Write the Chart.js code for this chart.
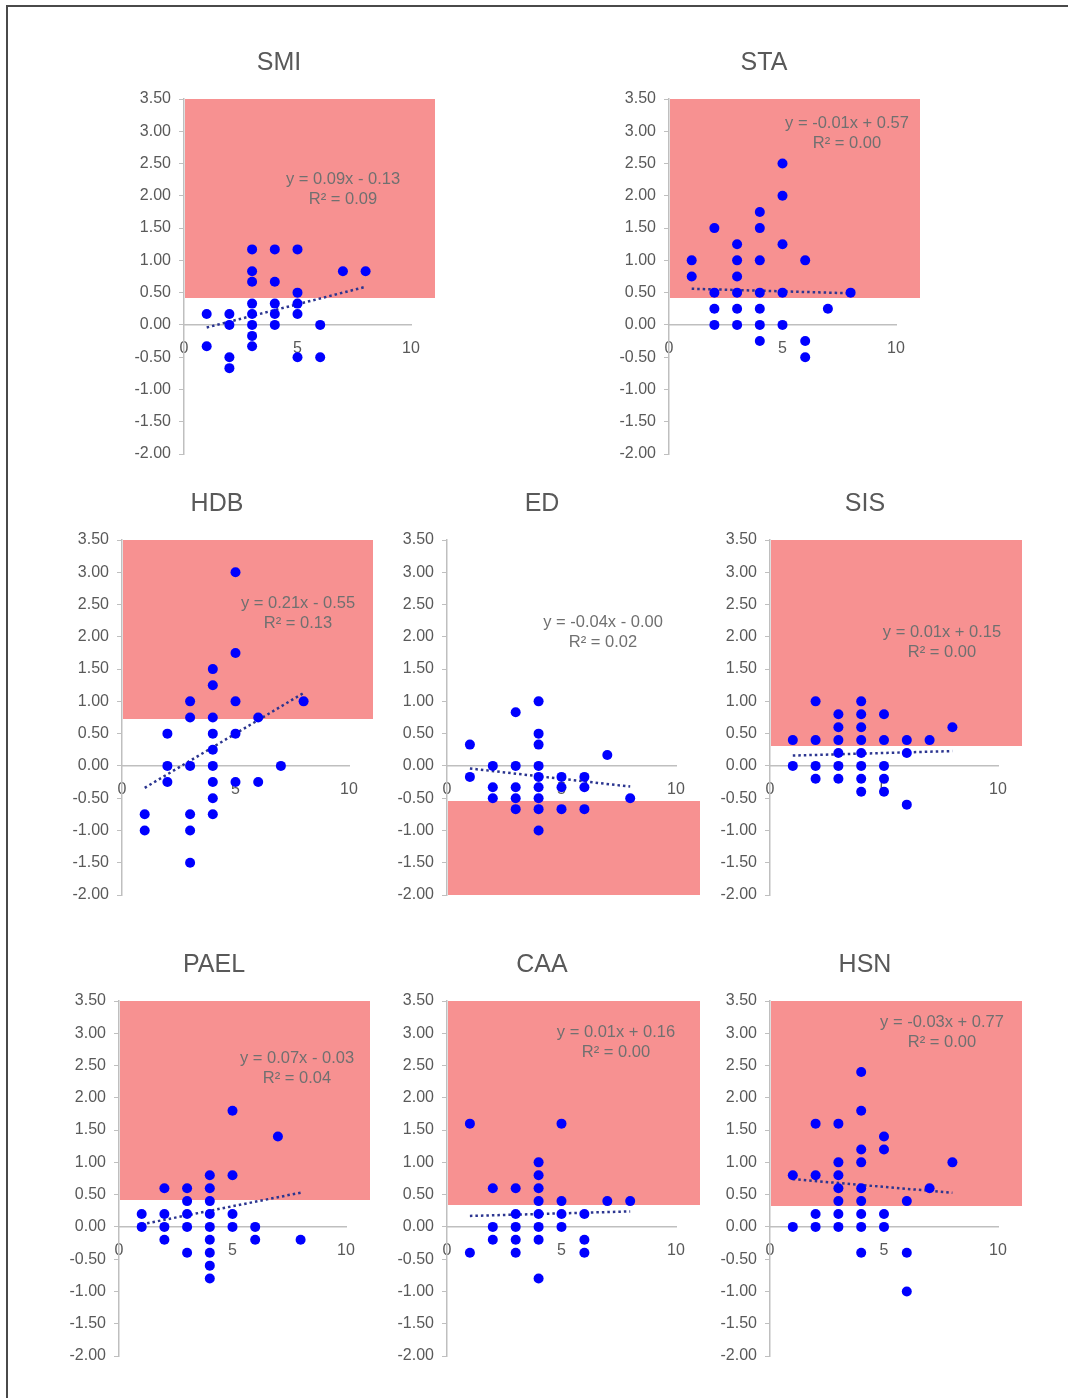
<!DOCTYPE html>
<html>
<head>
<meta charset="utf-8">
<script src="https://cdn.jsdelivr.net/npm/chart.js@4.4.1/dist/chart.umd.min.js"></script>
<style>
  body { margin: 0; background: #fff; width: 1068px; height: 1398px; position: relative; overflow: hidden; }
  .frame { position: absolute; left: 6px; top: 5px; width: 1070px; height: 1400px; border-left: 2px solid #4a4a4a; border-top: 2px solid #4a4a4a; }
  .box { position: absolute; }
</style>
</head>
<body>
<div class="frame"></div>
<div id="charts"></div>
<script>
// panel names, in reading order
const names = ['SMI', 'STA', 'HDB', 'ED', 'SIS', 'PAEL', 'CAA', 'HSN']

// x = score, y = change, one pair of arrays per panel
const smiX = [1,1, 2,2,2,2, 3,3,3,3,3,3,3,3, 4,4,4,4,4, 5,5,5,5,5, 6,6, 7, 8]
const smiY = [0.17,-0.33, 0.17,0,-0.5,-0.67, 1.17,0.83,0.67,0.33,0.17,0,-0.17,-0.33, 1.17,0.67,0.33,0.17,0, 1.17,0.5,0.33,0.17,-0.5, 0,-0.5, 0.83, 0.83]

const staX = [1,1, 2,2,2,2, 3,3,3,3,3,3, 4,4,4,4,4,4,4, 5,5,5,5,5, 6,6,6, 7, 8]
const staY = [1,0.75, 1.5,0.5,0.25,0, 1.25,1,0.75,0.5,0.25,0, 1.75,1.5,1,0.5,0.25,0,-0.25, 2.5,2,1.25,0.5,0, 1,-0.25,-0.5, 0.25, 0.5]

const hdbX = [1,1, 2,2,2, 3,3,3,3,3,3, 4,4,4,4,4,4,4,4,4, 5,5,5,5,5, 6,6, 7, 8]
const hdbY = [-0.75,-1, 0.5,0,-0.25, 1,0.75,0,-0.75,-1,-1.5, 1.5,1.25,0.75,0.5,0.25,0,-0.25,-0.5,-0.75, 3,1.75,1,0.5,-0.25, 0.75,-0.25, 0, 1]

const edX = [1,1, 2,2,2, 3,3,3,3,3, 4,4,4,4,4,4,4,4,4, 5,5,5, 6,6,6, 7, 8]
const edY = [0.33,-0.17, 0,-0.33,-0.5, 0.83,0,-0.33,-0.5,-0.67, 1,0.5,0.33,0,-0.17,-0.33,-0.5,-0.67,-1, -0.17,-0.33,-0.67, -0.17,-0.33,-0.67, 0.17, -0.5]

const sisX = [1,1, 2,2,2,2, 3,3,3,3,3,3, 4,4,4,4,4,4,4,4, 5,5,5,5,5, 6,6,6, 7, 8]
const sisY = [0.4,0, 1,0.4,0,-0.2, 0.8,0.6,0.4,0.2,0,-0.2, 1,0.8,0.6,0.4,0.2,0,-0.2,-0.4, 0.8,0.4,0,-0.2,-0.4, 0.4,0.2,-0.6, 0.4, 0.6]

const paelX = [1,1, 2,2,2,2, 3,3,3,3,3, 4,4,4,4,4,4,4,4,4, 5,5,5,5, 6,6, 7, 8]
const paelY = [0.2,0, 0.6,0.2,0,-0.2, 0.6,0.4,0.2,0,-0.4, 0.8,0.6,0.4,0.2,0,-0.2,-0.4,-0.6,-0.8, 1.8,0.8,0.2,0, 0,-0.2, 1.4, -0.2]

const caaX = [1,1, 2,2,2, 3,3,3,3,3, 4,4,4,4,4,4,4,4, 5,5,5,5, 6,6,6, 7, 8]
const caaY = [1.6,-0.4, 0.6,0,-0.2, 0.6,0.2,0,-0.2,-0.4, 1,0.8,0.6,0.4,0.2,0,-0.2,-0.8, 1.6,0.4,0.2,0, 0.2,-0.2,-0.4, 0.4, 0.4]

const hsnX = [1,1, 2,2,2,2, 3,3,3,3,3,3,3, 4,4,4,4,4,4,4,4,4, 5,5,5,5, 6,6,6, 7, 8]
const hsnY = [0.8,0, 1.6,0.8,0.2,0, 1.6,1,0.8,0.6,0.4,0.2,0, 2.4,1.8,1.2,1,0.6,0.4,0.2,0,-0.4, 1.4,1.2,0.2,0, 0.4,-0.4,-1, 0.6, 1]

const xs = [smiX, staX, hdbX, edX, sisX, paelX, caaX, hsnX]
const ys = [smiY, staY, hdbY, edY, sisY, paelY, caaY, hsnY]

// linear trend lines (slope, intercept) and their labels
const slopes     = [0.09, -0.01, 0.21, -0.04, 0.01, 0.07, 0.01, -0.03]
const intercepts = [-0.13, 0.57, -0.55, -0.00, 0.15, -0.03, 0.16, 0.77]
const eqLabels = ['y = 0.09x - 0.13', 'y = -0.01x + 0.57', 'y = 0.21x - 0.55', 'y = -0.04x - 0.00',
                  'y = 0.01x + 0.15', 'y = 0.07x - 0.03', 'y = 0.01x + 0.16', 'y = -0.03x + 0.77']
const r2Labels = ['R² = 0.09', 'R² = 0.00', 'R² = 0.13', 'R² = 0.02', 'R² = 0.00', 'R² = 0.04', 'R² = 0.00', 'R² = 0.00']

// shaded band (y from..to), x spans 0..11
const bandLow  = [0.42, 0.42, 0.73, -2.00, 0.31, 0.42, 0.34, 0.32]
const bandHigh = [3.50, 3.50, 3.50, -0.54, 3.50, 3.50, 3.50, 3.50]
const bandXMax = 11

// axis ticks
const yMin = -2, yMax = 3.5, yStep = 0.5
const xMin = 0, xMax = 10, xStep = 5

// where each plot area sits on the page, and where its equation goes (offset from plot top-left)
const boxes = [
    { left: 184, top: 99,   w: 227, eq: [159, 80] },
    { left: 669, top: 99,   w: 227, eq: [178, 24] },
    { left: 122, top: 540,  w: 227, eq: [176, 63] },
    { left: 447, top: 540,  w: 229, eq: [156, 82] },
    { left: 770, top: 540,  w: 228, eq: [172, 92] },
    { left: 119, top: 1001, w: 227, eq: [178, 57] },
    { left: 447, top: 1001, w: 229, eq: [169, 31] },
    { left: 770, top: 1001, w: 228, eq: [172, 21] },
]
const plotH = 355
const padL = 75, padT = 60, padR = 45, padB = 18

const textColor = '#595959'
const axisColor = '#bfbfbf'
const bandColor = 'rgba(240,45,45,0.52)'
const fontFamily = 'Arial, "Liberation Sans", sans-serif'

Chart.defaults.font.family = fontFamily
Chart.defaults.font.size = 16
Chart.defaults.color = textColor

const panelPlugin = {
    id: 'panel',
    beforeDatasetsDraw(chart) {
        const i = chart.options.plugins.panel.index
        const { ctx, chartArea } = chart
        const xs = chart.scales.x
        const ysc = chart.scales.y
        ctx.save()

        // shaded band
        const x0 = xs.getPixelForValue(0)
        const x1 = xs.getPixelForValue(bandXMax)
        const y0 = ysc.getPixelForValue(bandHigh[i])
        const y1 = ysc.getPixelForValue(bandLow[i])
        ctx.fillStyle = bandColor
        ctx.fillRect(Math.round(x0) + 1, Math.round(y0), Math.round(x1 - x0), Math.round(y1 - y0))

        // title
        ctx.fillStyle = textColor
        ctx.font = '25px ' + fontFamily
        ctx.textAlign = 'center'
        ctx.textBaseline = 'middle'
        ctx.fillText(names[i], chartArea.left + 95, chartArea.top - 36)

        // trend equation
        ctx.fillStyle = '#707070'
        ctx.font = '16.5px ' + fontFamily
        const ex = chartArea.left + boxes[i].eq[0]
        const ey = chartArea.top + boxes[i].eq[1]
        ctx.fillText(eqLabels[i], ex, ey)
        ctx.fillText(r2Labels[i], ex, ey + 20)
        ctx.restore()
    }
}

const holder = document.getElementById('charts')

names.forEach((name, i) => {
    const b = boxes[i]
    const div = document.createElement('div')
    div.className = 'box'
    const W = padL + b.w + padR
    const H = padT + plotH + padB
    div.style.left = (b.left - padL) + 'px'
    div.style.top = (b.top - padT) + 'px'
    div.style.width = W + 'px'
    div.style.height = H + 'px'
    const canvas = document.createElement('canvas')
    canvas.width = W
    canvas.height = H
    div.appendChild(canvas)
    holder.appendChild(div)

    const points = xs[i].map((x, k) => ({ x: x, y: ys[i][k] }))
    const lo = Math.min(...xs[i])
    const hi = Math.max(...xs[i])
    const trend = [lo, hi].map(x => ({ x: x, y: slopes[i] * x + intercepts[i] }))

    new Chart(canvas.getContext('2d'), {
        type: 'scatter',
        data: {
            datasets: [{
                data: points,
                pointRadius: 5,
                pointBorderWidth: 0,
                backgroundColor: '#0000ff',
                borderColor: '#0000ff'
            }, {
                data: trend,
                showLine: true,
                pointRadius: 0,
                borderColor: '#2b3590',
                borderWidth: 2.5,
                borderDash: [2.5, 3],
                fill: false
            }]
        },
        options: {
            responsive: false,
            animation: false,
            events: [],
            layout: { padding: { left: 0, top: padT, right: padR, bottom: padB } },
            plugins: {
                legend: { display: false },
                tooltip: { enabled: false },
                title: { display: false },
                panel: { index: i }
            },
            scales: {
                x: {
                    type: 'linear',
                    min: xMin,
                    max: xMax,
                    position: { y: 0 },
                    grid: { display: true, drawOnChartArea: false, drawTicks: false, color: axisColor },
                    border: { display: true, color: axisColor, width: 1.5 },
                    ticks: { stepSize: xStep, padding: 14, color: textColor, font: { size: 16 } }
                },
                y: {
                    type: 'linear',
                    min: yMin,
                    max: yMax,
                    afterFit(scale) { scale.width = padL },
                    grid: { display: true, drawOnChartArea: false, drawTicks: true, tickLength: 5, color: axisColor },
                    border: { display: true, color: axisColor, width: 1.5 },
                    ticks: {
                        stepSize: yStep,
                        autoSkip: false,
                        padding: 8,
                        color: textColor,
                        font: { size: 16 },
                        callback: v => v.toFixed(2)
                    }
                }
            }
        },
        plugins: [panelPlugin]
    })
})
</script>
</body>
</html>
